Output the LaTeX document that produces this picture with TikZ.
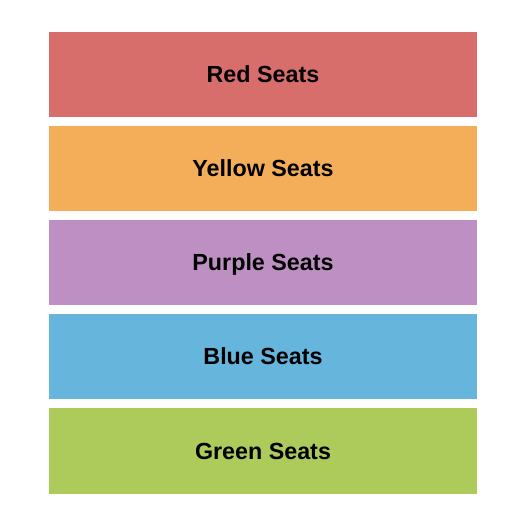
\documentclass[tikz,border=0pt]{standalone}
\usepackage{fontspec}
\setmainfont{Liberation Sans}
\definecolor{redseats}{RGB}{216, 110, 108}
\definecolor{yellowseats}{RGB}{244, 174, 90}
\definecolor{purpleseats}{RGB}{189, 143, 194}
\definecolor{blueseats}{RGB}{102, 181, 221}
\definecolor{greenseats}{RGB}{172, 203, 91}
\tikzset{seatlabel/.style={font=\fontsize{23.3}{27}\selectfont\bfseries, text=black, text height=16.7pt, text depth=0pt}}

\begin{document}
\begin{tikzpicture}[x=1pt, y=-1pt]
			\useasboundingbox (0, 0) rectangle (525, 525);
			\fill [fill=redseats] (49, 32) rectangle (477, 117) node[midway, seatlabel] (red) {Red Seats};
			\fill [fill=yellowseats] (49, 126) rectangle (477, 211) node[midway, seatlabel] (yellow) {Yellow Seats};
			\fill [fill=purpleseats] (49, 220) rectangle (477, 305) node[midway, seatlabel] (purple) {Purple Seats};
			\fill [fill=blueseats] (49, 314) rectangle (477, 399) node[midway, seatlabel] (blue) {Blue Seats};
			\fill [fill=greenseats] (49, 408) rectangle (477, 494) node[midway, seatlabel] (green) {Green Seats};
		\end{tikzpicture}
\end{document}
